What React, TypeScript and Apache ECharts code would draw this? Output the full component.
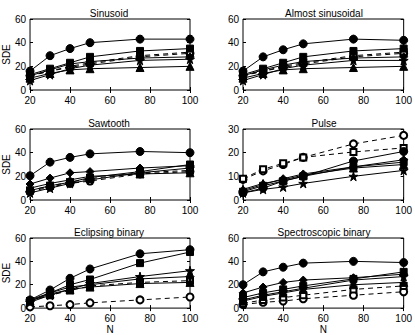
import React, { useEffect, useRef } from "react";
import * as echarts from "echarts";

const N = [20, 30, 40, 50, 75, 100];
const titles = ["Sinusoid", "Almost sinusoidal", "Sawtooth", "Pulse", "Eclipsing binary", "Spectroscopic binary"];
const yMax = [60, 60, 60, 30, 60, 60];
const yTicks = [20, 20, 20, 10, 20, 20];
// series order: circle, square, diamond, triangle, star, open circle (dashed), open square (dashed)
const sinusoid = [
  [16, 29, 35, 40, 43, 43],
  [13, 18, 23, 28, 33, 35],
  [12, 17, 22, 24, 27, 28],
  [10, 14, 17, 18, 19, 20],
  [8, 13, 18, 21, 25, 26],
  [12, 16, 19, 22, 28, 31],
  [12, 16, 20, 23, 29, 32],
];
const almostSinusoidal = [
  [16, 28, 34, 39, 43, 42],
  [13, 18, 23, 28, 33, 35],
  [12, 17, 21, 24, 27, 28],
  [10, 14, 17, 18, 19, 20],
  [8, 13, 18, 21, 25, 25],
  [12, 16, 19, 22, 28, 31],
  [12, 16, 20, 23, 29, 32],
];
const sawtooth = [
  [20.5, 32, 36, 39, 41, 40],
  [8, 12, 15, 19, 24, 30],
  [13.5, 18.5, 23, 24, 27, 29],
  [10, 14, 17, 20, 22, 23],
  [6, 10, 14, 17, 23, 27],
  [7, 11, 14, 16, 22, 24],
  [8, 12, 15, 18, 23, 25],
];
const pulse = [
  [3, 5, 8, 10, 16.5, 20.5],
  [3.5, 6, 8, 10, 14, 16],
  [4, 6.5, 9, 11, 14, 17],
  [4.5, 7, 8.5, 10.5, 13.5, 15],
  [3, 4.5, 5.5, 7, 10, 12.5],
  [8.7, 12.3, 15, 18, 23.7, 27.3],
  [9, 13, 15.5, 18, 20.3, 22],
];
const eclipsingBinary = [
  [7, 15.5, 25.5, 33.5, 46.5, 50],
  [6, 13, 20, 24.5, 38.5, 48],
  [7, 13, 18, 20, 25, 27],
  [6, 12, 16, 18, 21, 22],
  [5, 11, 16, 21, 27, 32],
  [1, 2, 3, 4.5, 7, 9.5],
  [6, 11, 15, 19, 22, 23.5],
];
const spectroscopicBinary = [
  [20, 31, 35, 38.5, 40, 39],
  [9, 13, 16, 19, 25, 31],
  [13, 18, 22, 24, 26, 29],
  [6, 10, 13, 16, 20, 22],
  [7, 11, 14, 17, 24, 27],
  [3, 5, 6, 8, 11, 14],
  [4, 7, 9, 11, 16, 19],
];
const panels = [sinusoid, almostSinusoidal, sawtooth, pulse, eclipsingBinary, spectroscopicBinary];

const STAR = "path://M50,0 L61,35 L98,35 L68,57 L79,91 L50,70 L21,91 L32,57 L2,35 L39,35 Z";
const symbols = ["circle", "rect", "diamond", "triangle", STAR, "emptyCircle", "emptyRect"];
const symSizes = [8, 7, 8, 8, 9, 7, 6];
const dashed = [false, false, false, false, false, true, true];

const FONT = "Liberation Sans, Arial, Helvetica, sans-serif";

export default function App() {
  const ref = useRef<HTMLDivElement>(null);
  useEffect(() => {
    if (!ref.current) return;
    const chart = echarts.init(ref.current, null, { renderer: "svg" });
    const lefts = [28, 243];
    const tops = [19, 129, 238];
    const gw = 162;
    const gh = 71;
    const grid: any[] = [];
    const xAxis: any[] = [];
    const yAxis: any[] = [];
    const series: any[] = [];
    const title: any[] = [];
    panels.forEach((panel, p) => {
      const col = p % 2;
      const row = Math.floor(p / 2);
      grid.push({
        left: lefts[col], top: tops[row], width: gw, height: gh,
        show: true, borderColor: "#000", borderWidth: 1, backgroundColor: "transparent",
      });
      title.push({
        text: titles[p], left: lefts[col] + gw / 2, top: tops[row] - 11, textAlign: "center",
        padding: 0,
        textStyle: { fontSize: 10, fontWeight: "normal", color: "#000", fontFamily: FONT },
      });
      const baseX = {
        type: "value", gridIndex: p, min: 20, max: 100, interval: 20,
        axisLine: { show: false }, splitLine: { show: false },
        axisTick: { show: true, inside: true, length: 3, lineStyle: { color: "#000" } },
      };
      xAxis.push({
        ...baseX, position: "bottom",
        axisLabel: { show: true, color: "#000", fontSize: 10, fontFamily: FONT, margin: 5,
          formatter: (v: number) => String(v) },
        name: row === 2 ? "N" : "", nameLocation: "middle", nameGap: 14,
        nameTextStyle: { color: "#000", fontSize: 10, fontFamily: FONT },
      });
      xAxis.push({ ...baseX, position: "top", axisLabel: { show: false } });
      const baseY = {
        type: "value", gridIndex: p, min: 0, max: yMax[p], interval: yTicks[p],
        axisLine: { show: false }, splitLine: { show: false },
        axisTick: { show: true, inside: true, length: 3, lineStyle: { color: "#000" } },
      };
      yAxis.push({
        ...baseY, position: "left",
        axisLabel: { show: true, color: "#000", fontSize: 10, fontFamily: FONT, margin: 4 },
        name: col === 0 ? "SDE" : "", nameLocation: "middle", nameGap: 19,
        nameTextStyle: { color: "#000", fontSize: 10, fontFamily: FONT },
      });
      yAxis.push({ ...baseY, position: "right", axisLabel: { show: false } });
      panel.forEach((vals, s) => {
        series.push({
          type: "line",
          xAxisIndex: p * 2,
          yAxisIndex: p * 2,
          data: vals.map((v, i) => [N[i], v]),
          symbol: symbols[s],
          symbolSize: symSizes[s],
          showSymbol: true,
          lineStyle: { color: "#000", width: 1, type: dashed[s] ? [5, 4] : "solid" },
          itemStyle: { color: "#000", borderColor: "#000", borderWidth: dashed[s] ? 0.8 : 1 },
          z: dashed[s] ? 2 : 3,
        });
      });
    });
    chart.setOption({
      animation: false,
      backgroundColor: "#fff",
      textStyle: { fontFamily: FONT },
      title,
      grid,
      xAxis,
      yAxis,
      series,
    });
    return () => chart.dispose();
  }, []);
  return (
    <div
      ref={ref}
      style={{ position: "absolute", left: 0, top: 0, width: 415, height: 335 }}
    />
  );
}
